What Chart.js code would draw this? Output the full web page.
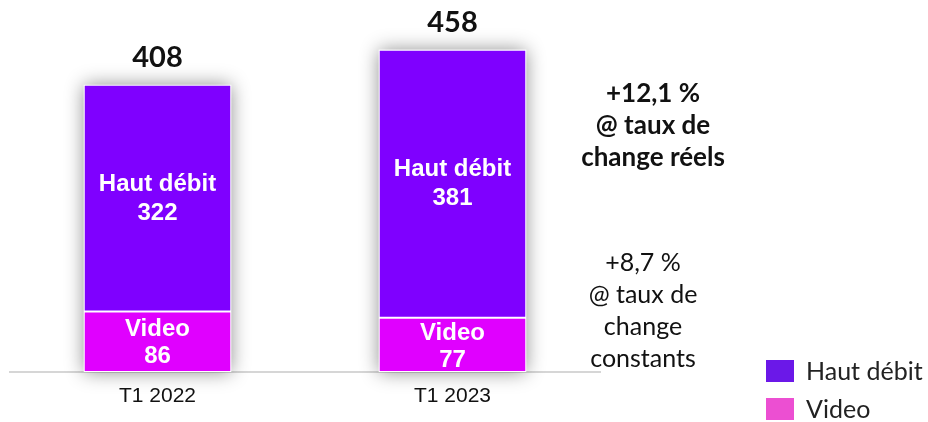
<!DOCTYPE html>
<html>
<head>
<meta charset="utf-8">
<script src="https://cdn.jsdelivr.net/npm/chart.js@4"></script>
<style>
  body { margin: 0; background: #fff; }
  #wrap { width: 928px; height: 422px; }
</style>
</head>
<body>
<div id="wrap"><canvas id="barChart"></canvas></div>
<script>
const categories = ['T1 2022', 'T1 2023'];
const hautDebit = [322, 381];
const video = [86, 77];
const reelsNote = ['+12,1 %', '@ taux de', 'change réels'];
const constantsNote = ['+8,7 %', '@ taux de', 'change', 'constants'];

// draws shadow, value labels, side notes and legend
const extras = {
    id: 'extras',
    beforeDatasetsDraw(chart) {
        const ctx = chart.ctx;
        const top = chart.getDatasetMeta(1).data;
        const bottom = chart.getDatasetMeta(0).data;
        ctx.save();
        ctx.shadowColor = 'rgba(0,0,0,0.45)';
        ctx.shadowBlur = 18;
        ctx.fillStyle = '#fff';
        top.forEach((bar, i) => {
            const w = bar.width;
            ctx.fillRect(bar.x - w / 2, bar.y, w, bottom[i].base - bar.y);
        });
        ctx.restore();
    },
    afterDatasetsDraw(chart) {
        const ctx = chart.ctx;
        const vMeta = chart.getDatasetMeta(0).data;
        const hMeta = chart.getDatasetMeta(1).data;
        ctx.save();
        ctx.textAlign = 'center';
        ctx.textBaseline = 'middle';
        ctx.fillStyle = '#fff';
        ctx.font = 'bold 24px Arial, "Liberation Sans"';
        hMeta.forEach((bar, i) => {
            const mid = (bar.y + bar.base) / 2;
            ctx.fillText('Haut débit', bar.x, mid - 14);
            ctx.fillText(String(hautDebit[i]), bar.x, mid + 15);
        });
        vMeta.forEach((bar, i) => {
            const mid = (bar.y + bar.base) / 2;
            ctx.fillText('Video', bar.x, mid - 12);
            ctx.fillText(String(video[i]), bar.x, mid + 15);
        });
        ctx.fillStyle = '#111';
        ctx.font = 'bold 29px Lato';
        hMeta.forEach((bar, i) => {
            ctx.fillText(String(hautDebit[i] + video[i]), bar.x, bar.y - 27);
        });

        ctx.font = 'bold 26px Lato';
        reelsNote.forEach((t, i) => ctx.fillText(t, 653, 94 + i * 32));
        ctx.font = '25px Lato';
        constantsNote.forEach((t, i) => ctx.fillText(t, 643, 263 + i * 32));

        // legend
        const items = [
            { label: chart.data.datasets[1].label, color: '#6b18e8', y: 360 },
            { label: chart.data.datasets[0].label, color: '#ec4fd2', y: 398 }
        ];
        ctx.textAlign = 'left';
        ctx.font = '25px Lato';
        items.forEach(it => {
            ctx.fillStyle = it.color;
            ctx.fillRect(766, it.y, 28, 22);
            ctx.fillStyle = '#222';
            ctx.fillText(it.label, 806, it.y + 12);
        });
        ctx.restore();
    }
};

const ctx = document.getElementById('barChart').getContext('2d');
const myChart = new Chart(ctx, {
    type: 'bar',
    data: {
        labels: categories,
        datasets: [{
            label: 'Video',
            data: video,
            backgroundColor: '#e000ff',
            borderColor: '#ffffff',
            borderWidth: 1,
            borderSkipped: false
        }, {
            label: 'Haut débit',
            data: hautDebit,
            backgroundColor: '#7f00ff',
            borderColor: '#ffffff',
            borderWidth: 1,
            borderSkipped: false
        }]
    },
    options: {
        responsive: true,
        maintainAspectRatio: false,
        animation: false,
        layout: { padding: { left: 10, right: 328, top: 6, bottom: 0 } },
        datasets: { bar: { barPercentage: 1, categoryPercentage: 0.5 } },
        plugins: { legend: { display: false }, tooltip: { enabled: false } },
        scales: {
            x: {
                stacked: true,
                grid: { display: false, drawTicks: false },
                border: { display: true, color: '#d6d6d6', width: 2 },
                ticks: { color: '#111', padding: 12, font: { family: 'Arial', size: 21 } },
                afterFit(scale) { scale.height = 50; }
            },
            y: {
                stacked: true,
                display: false,
                min: 0,
                max: 520
            }
        }
    },
    plugins: [extras]
});
</script>
</body>
</html>
